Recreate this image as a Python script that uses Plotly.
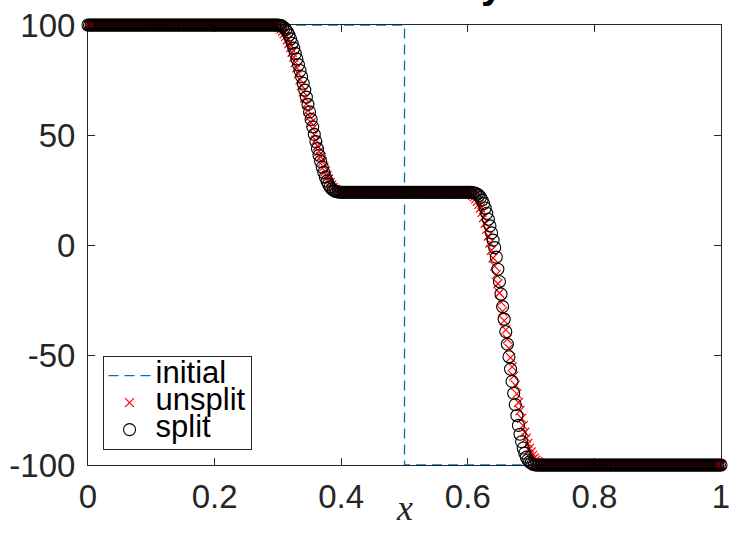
import numpy as np
import plotly.graph_objects as go

# ---------------- data ----------------
n_points = 401
x_grid = np.linspace(0.0, 1.0, n_points)

initial_x = [0.0, 0.5, 0.5, 1.0]
initial_y = [100.0, 100.0, -100.0, -100.0]

left_state = 100.0
middle_state = 24.0
right_state = -100.0

# split (black circles): first transition values starting at x = 0.3000 (step 0.0025)
split_t1 = [100.0, 99.9, 99.7, 99.3, 98.7, 97.9, 96.8, 95.4, 93.7, 91.7,
            89.5, 87.1, 84.6, 82.0, 79.3, 76.5, 73.5, 70.4, 67.2, 63.9,
            60.5, 57.1, 53.7, 50.3, 47.0, 43.8, 40.8, 38.0, 35.4, 33.0,
            30.9, 29.1, 27.6, 26.4, 25.5, 24.9, 24.5, 24.25, 24.1, 24.0]
# split: second transition starting at x = 0.6000
split_t2 = [24.0, 23.95, 23.9, 23.8, 23.65, 23.5, 23.1, 22.5, 21.6, 20.4,
            18.8, 16.8, 14.4, 11.7, 8.7, 5.5, 2.2, -1.2, -5.5, -11.0,
            -16.6, -22.3, -28.0, -33.7, -39.4, -45.1, -50.8, -56.4, -62.0, -67.4,
            -72.6, -77.5, -82.0, -86.0, -89.4, -92.3, -94.6, -96.4, -97.7, -98.6,
            -99.2, -99.6, -99.85, -99.95, -100.0]

# unsplit (red crosses): first transition starting at x = 0.2900
unsplit_t1 = [100.0, 99.9, 99.8, 99.6, 99.3, 98.8, 98.1, 97.2, 96.1, 94.8,
              93.3, 91.6, 89.7, 87.6, 85.4, 83.0, 80.5, 77.9, 75.2, 72.4,
              69.6, 66.8, 64.0, 61.2, 58.4, 55.6, 52.9, 50.2, 47.6, 45.0,
              42.5, 40.1, 37.8, 35.6, 33.5, 31.6, 29.9, 28.4, 27.2, 26.2,
              25.4, 24.9, 24.6, 24.4, 24.25, 24.15, 24.08, 24.03, 24.0]
# unsplit: second transition starting at x = 0.5925
unsplit_t2 = [24.0, 23.95, 23.85, 23.7, 23.45, 23.1, 22.6, 21.9, 21.0, 19.9,
              18.5, 16.8, 14.8, 12.5, 9.9, 7.1, 4.1, 0.9, -2.4, -5.9,
              -9.6, -13.5, -17.6, -21.8, -26.0, -30.2, -34.4, -38.6, -42.8, -47.0,
              -51.2, -55.4, -59.6, -63.7, -67.7, -71.6, -75.3, -78.8, -82.1, -85.1,
              -87.8, -90.2, -92.3, -94.1, -95.6, -96.8, -97.8, -98.5, -99.0, -99.4,
              -99.65, -99.8, -99.9, -100.0]

split_start = (120, 240)
unsplit_start = (116, 237)

x_tick_vals = [0, 0.2, 0.4, 0.6, 0.8, 1]
x_tick_labels = ["0", "0.2", "0.4", "0.6", "0.8", "1"]
y_tick_vals = [-100, -50, 0, 50, 100]
y_tick_labels = ["-100", "-50", "0", "50", "100"]


def assemble(starts, t1, t2):
    i1, i2 = starts
    vals = ([left_state] * i1 + t1 +
            [middle_state] * (i2 - i1 - len(t1)) + t2 +
            [right_state] * (n_points - i2 - len(t2)))
    return vals


split_y = assemble(split_start, split_t1, split_t2)
unsplit_y = assemble(unsplit_start, unsplit_t1, unsplit_t2)

# ---------------- figure ----------------
W, H = 737, 535
ML, MR, MT, MB = 88, 7, 20, 70
TXT = "#262626"
LEG_SPAN = '<span style="font-size:31px">{}</span>'

fig = go.Figure()
fig.add_trace(go.Scatter(
    x=initial_x, y=initial_y, mode="lines", name=LEG_SPAN.format("initial"),
    line=dict(color="#0072BD", width=1.3, dash="10px,6px"),
))
fig.add_trace(go.Scatter(
    x=x_grid, y=unsplit_y, mode="markers", name=LEG_SPAN.format("unsplit"),
    marker=dict(symbol="x-thin-open", size=9, color="#FF0000",
                line=dict(color="#FF0000", width=1.2)),
    cliponaxis=False,
))
fig.add_trace(go.Scatter(
    x=x_grid, y=split_y, mode="markers", name=LEG_SPAN.format("split"),
    marker=dict(symbol="circle-open", size=12, color="#000000",
                line=dict(color="#000000", width=1.1)),
    cliponaxis=False,
))

axis_common = dict(
    showgrid=False, zeroline=False, showline=True, mirror="ticks",
    linecolor=TXT, linewidth=1, ticks="inside", ticklen=7, tickwidth=1,
    tickcolor=TXT, layer="below traces", ticklabeloverflow="allow",
    tickfont=dict(family="Liberation Sans, Arial, sans-serif", size=33, color=TXT),
)

fig.update_layout(
    width=W, height=H,
    margin=dict(l=ML, r=MR, t=MT, b=MB, pad=0),
    paper_bgcolor="white", plot_bgcolor="white",
    showlegend=True,
    legend=dict(
        x=0.023, y=0.034, xanchor="left", yanchor="bottom",
        bgcolor="white", bordercolor=TXT, borderwidth=1,
        font=dict(family="Liberation Sans, Arial, sans-serif", size=18.5, color="#000"),
        tracegroupgap=0, itemwidth=42,
    ),
    xaxis=dict(range=[0, 1], tickvals=x_tick_vals, ticktext=x_tick_labels,
               ticklabelstandoff=2, **axis_common),
    yaxis=dict(range=[-100, 100], tickvals=y_tick_vals, ticktext=y_tick_labels,
               ticklabelstandoff=5, **axis_common),
    annotations=[
        dict(text="<i>x</i>", x=0.5, y=-0.097, xref="paper", yref="paper",
             xanchor="center", yanchor="middle", showarrow=False,
             font=dict(family="Liberation Serif, serif", size=36, color=TXT)),
        dict(text="<b>Velocity</b>", x=(512 - ML) / (W - ML - MR), y=1,
             xref="paper", yref="paper", xanchor="right", yanchor="bottom",
             yshift=17, showarrow=False,
             font=dict(family="Liberation Sans, Arial, sans-serif", size=40, color="#000")),
    ],
)

fig.write_html("out.html")
